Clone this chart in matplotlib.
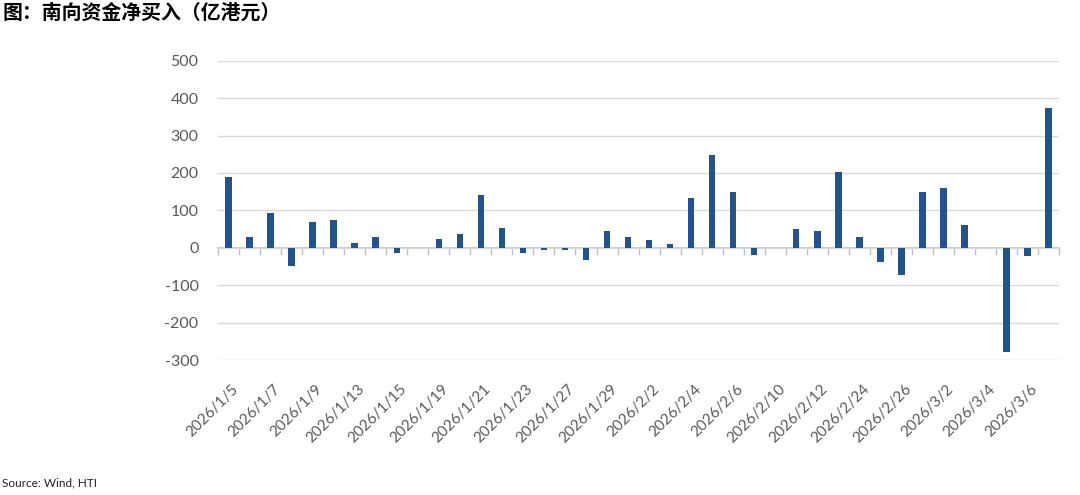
import numpy as np
import matplotlib
matplotlib.use("Agg")
import matplotlib.pyplot as plt
from matplotlib.transforms import ScaledTranslation

plt.rcParams['font.family'] = ['Lato', 'Noto Sans CJK SC', 'DejaVu Sans']

# ---- data ----
dates = ['2026/1/5', '2026/1/6', '2026/1/7', '2026/1/8', '2026/1/9',
         '2026/1/12', '2026/1/13', '2026/1/14', '2026/1/15', '2026/1/16',
         '2026/1/19', '2026/1/20', '2026/1/21', '2026/1/22', '2026/1/23',
         '2026/1/26', '2026/1/27', '2026/1/28', '2026/1/29', '2026/1/30',
         '2026/2/2', '2026/2/3', '2026/2/4', '2026/2/5', '2026/2/6',
         '2026/2/9', '2026/2/10', '2026/2/11', '2026/2/12', '2026/2/13',
         '2026/2/24', '2026/2/25', '2026/2/26', '2026/2/27', '2026/3/2',
         '2026/3/3', '2026/3/4', '2026/3/5', '2026/3/6', '2026/3/9']
net_buy = [188, 28, 93, -48, 70, 73, 14, 28, -15, 0,
           23, 38, 140, 52, -15, -6, -5, -33, 44, 30,
           20, 11, 134, 249, 148, -18, 0, 49, 46, 202,
           30, -38, -74, 149, 161, 61, 0, -278, -21, 373]
y_ticks = [-300, -200, -100, 0, 100, 200, 300, 400, 500]

title = '图：南向资金净买入（亿港元）'
source = 'Source: Wind, HTI'

bar_color = '#22538D'
grid_color = '#D9D9D9'
axis_color = '#BFBFBF'
label_color = '#595959'

fig = plt.figure(figsize=(10.8, 4.95), dpi=100)
ax = fig.add_axes([0.2019, 0.2727, 0.7787, 0.6047])

x = np.arange(len(dates))
ax.bar(x, net_buy, width=0.31, color=bar_color, zorder=3)

ax.set_xlim(-0.5, len(dates) - 0.5)
ax.set_ylim(y_ticks[0], y_ticks[-1])
ax.set_yticks(y_ticks)
ax.set_yticklabels([str(v) for v in y_ticks])
ax.yaxis.grid(True, color=grid_color, linewidth=1.0, zorder=0)
ax.set_axisbelow(True)
for s in ax.spines.values():
    s.set_visible(False)
ax.tick_params(axis='y', length=0, pad=14, labelsize=11.5, labelcolor=label_color)

ax.set_xticks(x[::2])
ax.set_xticklabels(dates[::2], rotation=45, ha='right', rotation_mode='anchor')
ax.tick_params(axis='x', length=0, pad=16, labelsize=11, labelcolor=label_color)
offset = ScaledTranslation(3 / 100, 0, fig.dpi_scale_trans)
for lbl in ax.get_xticklabels():
    lbl.set_transform(lbl.get_transform() + offset)

# category axis line with boundary ticks at y = 0
zero_loc = (0 - y_ticks[0]) / (y_ticks[-1] - y_ticks[0])
sec = ax.secondary_xaxis(zero_loc)
sec.set_xticks(np.arange(len(dates) + 1) - 0.5)
sec.set_xticklabels([])
sec.tick_params(axis='x', length=5, width=1, color=axis_color, direction='out')
sec.spines['bottom'].set_color(axis_color)
sec.spines['bottom'].set_linewidth(1.2)

fig.text(0.002, 0.976, title, fontsize=14.3, fontweight='bold',
         family=['Noto Sans CJK SC', 'DejaVu Sans'], va='center', ha='left', color='black')
fig.text(0.002, 0.024, source, fontsize=8.5, va='center', ha='left', color='#222222')

fig.savefig('out.png', dpi=100)
